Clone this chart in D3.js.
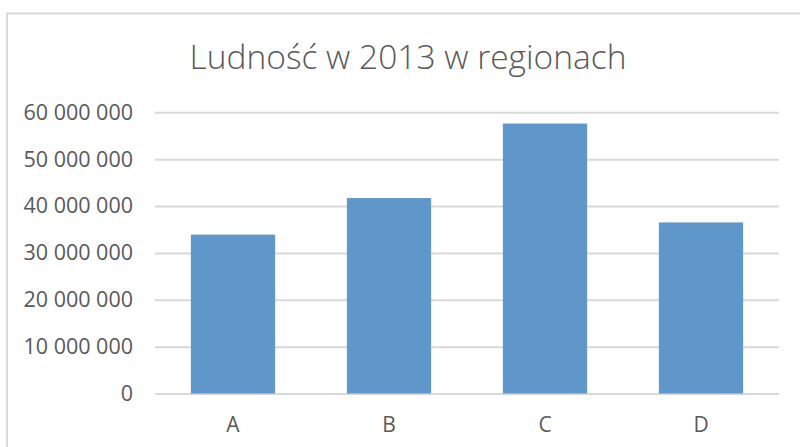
<!DOCTYPE html>
<html>
<head>
<meta charset="utf-8">
<script src="https://cdn.jsdelivr.net/npm/d3@7"></script>
<style>
  body { margin: 0; background: #fff; }
  svg text { font-family: "Open Sans", sans-serif; fill: #595959; }
</style>
</head>
<body>
<svg id="chart" width="800" height="447"></svg>
<script>
var title = 'Ludność w 2013 w regionach'
var regions = ['A', 'B', 'C', 'D']
var population = [33900000, 41700000, 57600000, 36500000]
var yTicks = [0, 10000000, 20000000, 30000000, 40000000, 50000000, 60000000]

var svg = d3.select('#chart')
var margin = {top: 112.3, right: 21, bottom: 53.5, left: 155}
var width = 800 - margin.left - margin.right
var height = 447 - margin.top - margin.bottom

// chart frame
svg.append('rect')
  .attr('x', 7).attr('y', 13.5)
  .attr('width', 820).attr('height', 460)
  .attr('fill', 'none')
  .attr('stroke', '#d9d9d9')
  .attr('stroke-width', 2)

svg.append('text')
  .attr('x', 408).attr('y', 69)
  .attr('text-anchor', 'middle')
  .style('font-size', '33.5px')
  .style('font-weight', 300)
  .text(title)

var g = svg.append('g')
  .attr('transform', 'translate(' + margin.left + ',' + margin.top + ')')

var x = d3.scaleBand()
  .domain(regions)
  .range([0, width])
  .paddingInner(0.46)
  .paddingOuter(0.23)

var y = d3.scaleLinear()
  .domain([0, 60000000])
  .range([height, 0])

var fmt = function (d) { return d3.format(',')(d).replace(/,/g, ' ') }

// gridlines + y labels
var yAxis = g.append('g')
  .call(d3.axisLeft(y).tickValues(yTicks).tickSize(-width).tickFormat(fmt).tickPadding(22))
yAxis.select('.domain').remove()
yAxis.selectAll('.tick line')
  .attr('stroke', '#d9d9d9')
  .attr('stroke-width', 2)
yAxis.selectAll('.tick text')
  .style('font-size', '21.5px')
  .style('fill', '#595959')

g.selectAll('.bar')
  .data(population)
  .enter().append('rect')
  .attr('class', 'bar')
  .attr('x', function (d, i) { return x(regions[i]) })
  .attr('width', x.bandwidth())
  .attr('y', function (d) { return y(d) })
  .attr('height', function (d) { return height - y(d) })
  .attr('fill', '#6097cb')

var xAxis = g.append('g')
  .attr('transform', 'translate(0,' + height + ')')
  .call(d3.axisBottom(x).tickSize(0).tickPadding(24))
xAxis.select('.domain').remove()
xAxis.selectAll('.tick text')
  .style('font-size', '21px')
  .style('fill', '#595959')
</script>
</body>
</html>
